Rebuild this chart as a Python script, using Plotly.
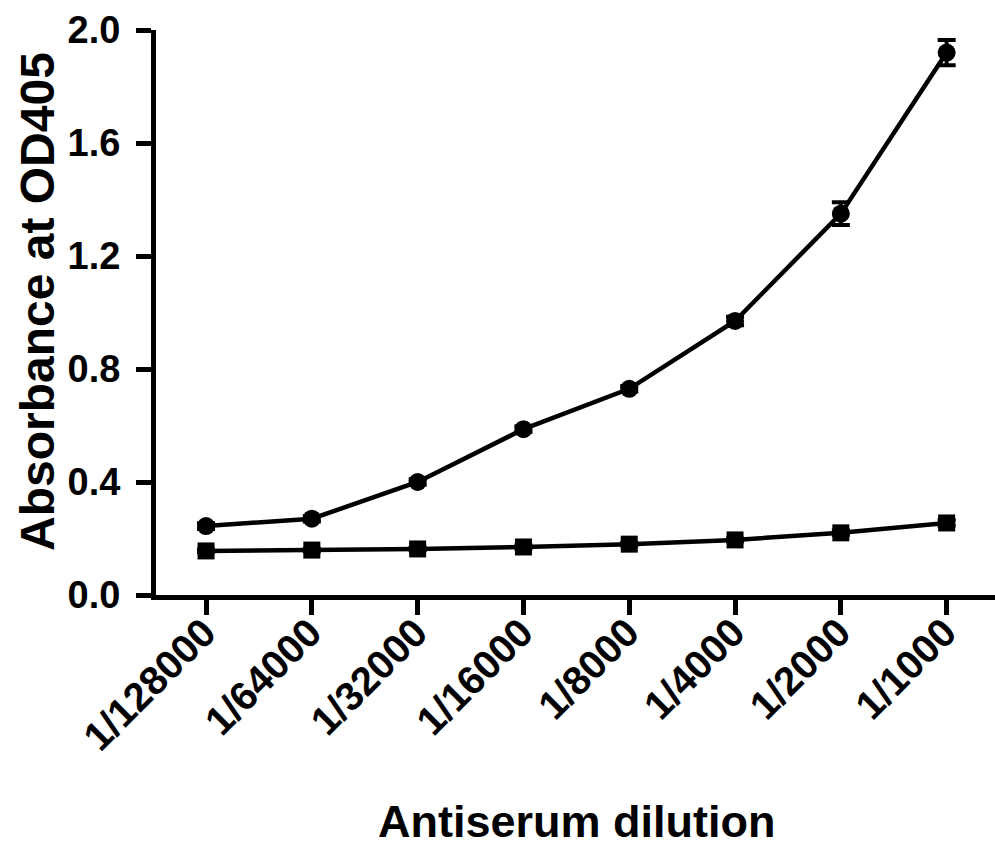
import plotly.graph_objects as go

dilutions = ["1/128000", "1/64000", "1/32000", "1/16000", "1/8000", "1/4000", "1/2000", "1/1000"]
immune = [0.244, 0.27, 0.40, 0.587, 0.73, 0.97, 1.35, 1.92]
immune_err = [0.01, 0.01, 0.01, 0.01, 0.01, 0.015, 0.04, 0.045]
control = [0.156, 0.159, 0.163, 0.17, 0.18, 0.195, 0.22, 0.255]
control_err = [0.005, 0.005, 0.005, 0.005, 0.005, 0.005, 0.008, 0.01]
y_ticks = [0.0, 0.4, 0.8, 1.2, 1.6, 2.0]

xpos = list(range(len(dilutions)))

fig = go.Figure()
fig.add_trace(go.Scatter(
    x=xpos, y=immune, mode="lines+markers",
    line=dict(color="black", width=4.5),
    marker=dict(symbol="circle", size=18, color="black"),
    error_y=dict(type="data", array=immune_err, color="black", thickness=4, width=9),
    showlegend=False, cliponaxis=False,
))
fig.add_trace(go.Scatter(
    x=xpos, y=control, mode="lines+markers",
    line=dict(color="black", width=4.5),
    marker=dict(symbol="square", size=17, color="black"),
    error_y=dict(type="data", array=control_err, color="black", thickness=4, width=9),
    showlegend=False, cliponaxis=False,
))

L, T, B = 156, 30, 252
W, H = 995, 847
pw, ph = W - L, H - T - B

font = "Liberation Sans, Arial, sans-serif"
fig.update_layout(
    width=W, height=H,
    margin=dict(l=L, r=0, t=T, b=B),
    plot_bgcolor="white", paper_bgcolor="white",
    font=dict(family=font, color="black"),
    annotations=[
        dict(text="<b>Antiserum dilution</b>", xref="paper", yref="paper",
             x=(577 - L) / pw, y=-(822 - (H - B)) / ph,
             xanchor="center", yanchor="middle", showarrow=False,
             font=dict(size=45, family=font, color="black")),
        dict(text="<b>Absorbance at OD405</b>", xref="paper", yref="paper",
             x=-(L - 37) / pw, y=((H - B) - 302) / ph,
             xanchor="center", yanchor="middle", textangle=-90, showarrow=False,
             font=dict(size=48, family=font, color="black")),
    ],
)
fig.update_xaxes(
    range=[-0.473, 7.457], tickmode="array", tickvals=xpos,
    ticktext=[f"<b>{d}</b>" for d in dilutions], automargin=False,
    tickangle=-45, ticks="outside", ticklen=15, tickwidth=5, tickcolor="black",
    showline=True, linewidth=5, linecolor="black", showgrid=False, zeroline=False,
    tickfont=dict(size=40, family=font), ticklabelstandoff=-22, ticklabelshift=-2,
)
fig.update_yaxes(
    range=[0, 2.0], tickmode="array", tickvals=y_ticks, automargin=False,
    ticktext=[f"<b>{v:.1f}</b>" for v in y_ticks],
    ticks="outside", ticklen=15, tickwidth=5, tickcolor="black",
    showline=True, linewidth=5, linecolor="black", showgrid=False, zeroline=False,
    tickfont=dict(size=38, family=font), ticklabelstandoff=8,
)

fig.write_html("out.html", config={"displayModeBar": False},
               post_script="document.body.style.margin='0px';")
